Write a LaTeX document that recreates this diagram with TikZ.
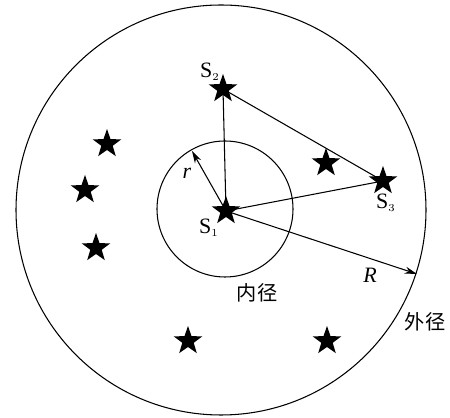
\documentclass[tikz,border=0pt]{standalone}
\usepackage{fontspec}
\setmainfont{Liberation Serif}
\newfontfamily\cjk{Noto Sans CJK SC}
\usetikzlibrary{positioning,arrows.meta,shapes.geometric,calc}

\begin{document}
\begin{tikzpicture}[x=0.02cm,y=-0.02cm,
    sensor/.style={star,star points=5,star point ratio=2.5,fill=black,draw=none,inner sep=0pt,minimum size=0.6cm},
    lbl/.style={font=\fontsize{12.5}{14}\selectfont},
    zh/.style={font=\cjk\fontsize{11.5}{13}\selectfont},
    link/.style={line width=0.6pt},
    arrow/.style={line width=0.6pt,-{Stealth[length=7pt,width=4pt]}},
]
\useasboundingbox (0,0) rectangle (450,418);

% Circles (inner and outer radius)
\coordinate (outer) at (221,210);
\coordinate (inner) at (225,209);
\draw[link] (outer) circle[radius=205];
\draw[link] (inner) circle[radius=68];

% Sensors
\node[sensor] (s1) at (226,211) {};
\node[sensor] (s2) at (223,89)  {};
\node[sensor] (s3) at (383,181) {};
\node[sensor] (n4) at (107,144) {};
\node[sensor] (n5) at (85,190)  {};
\node[sensor] (n6) at (96,248)  {};
\node[sensor] (n7) at (326,163) {};
\node[sensor] (n8) at (188,341) {};
\node[sensor] (n9) at (327,341) {};

% Triangle S1-S2-S3
\draw[link] (s1.center) -- (s2.center);
\draw[link] (s2.center) -- (s3.center);
\draw[link] (s3.center) -- (s1.center);

% Radius arrows
\coordinate (rend) at (192,151);
\coordinate (Rend) at (417,274);
\draw[arrow] (s1.center) -- (rend);
\draw[arrow] (s1.center) -- (Rend);

% Labels
\node[lbl] (l1) at (209,228) {S$_{\scriptscriptstyle 1}$};
\node[lbl] (l2) at (210,72)  {S$_{\scriptscriptstyle 2}$};
\node[lbl] (l3) at (386,203) {S$_{\scriptscriptstyle 3}$};
\node[lbl] (lr) at (187,173) {\textit{r}};
\node[lbl] (lR) at (370,275) {\textit{R}};
\node[zh]  (zin)  at (257,293) {内径};
\node[zh]  (zout) at (425,322) {外径};
\end{tikzpicture}
\end{document}
